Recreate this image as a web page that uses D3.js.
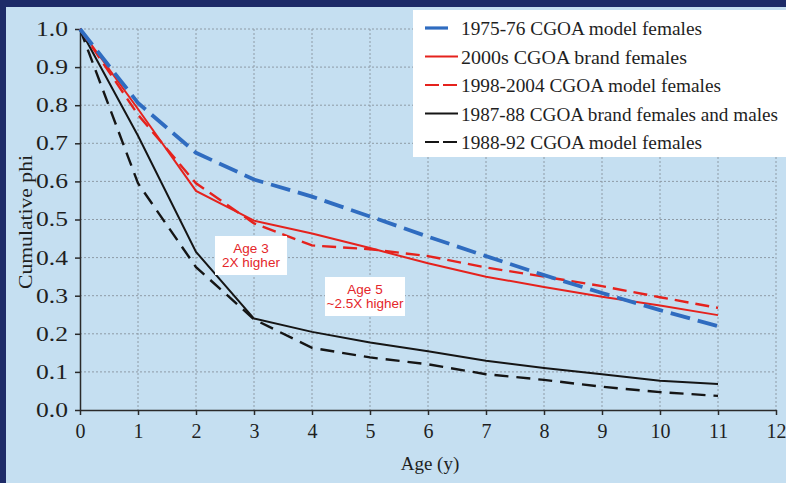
<!DOCTYPE html>
<html>
<head>
<meta charset="utf-8">
<script src="https://cdn.jsdelivr.net/npm/d3@7"></script>
<style>
  body { margin: 0; }
  svg { display: block; }
  .serif { font-family: "Liberation Serif", "Times New Roman", serif; }
  .grid line { stroke: #8e9ba6; stroke-width: 1; stroke-dasharray: 2,2; }
  .axis path, .axis line { stroke: #2a2a2a; stroke-width: 1.5; }
  .axis text { font-family: "Liberation Serif", "Times New Roman", serif; font-size: 20px; fill: #1f1f1f; }
  .note { font-family: "Liberation Sans", Arial, sans-serif; font-size: 13.5px; fill: #e4262a; text-anchor: middle; }
</style>
</head>
<body>
<div id="chart"></div>
<script>
// the data
const ages = [0, 1, 2, 3, 4, 5, 6, 7, 8, 9, 10, 11]
const model7576 = [1.0, 0.806, 0.675, 0.605, 0.56, 0.508, 0.455, 0.404, 0.354, 0.307, 0.262, 0.22]
const brand2000s = [1.0, 0.79, 0.575, 0.497, 0.463, 0.425, 0.385, 0.35, 0.323, 0.297, 0.274, 0.249]
const model9804 = [1.0, 0.775, 0.595, 0.49, 0.432, 0.422, 0.404, 0.374, 0.35, 0.325, 0.296, 0.268]
const brand8788 = [1.0, 0.72, 0.415, 0.24, 0.205, 0.177, 0.154, 0.129, 0.11, 0.094, 0.077, 0.068]
const model8892 = [1.0, 0.595, 0.375, 0.238, 0.163, 0.138, 0.12, 0.094, 0.079, 0.061, 0.047, 0.037]

const xTicks = [0, 1, 2, 3, 4, 5, 6, 7, 8, 9, 10, 11, 12]
const yTicks = [0, 0.1, 0.2, 0.3, 0.4, 0.5, 0.6, 0.7, 0.8, 0.9, 1.0]

const series = [
  {name: "1975-76 CGOA model females", values: model7576, color: "#2f6cc0", width: 3.8, dash: "20,8", legendDash: "23,40", textLen: 241},
  {name: "2000s CGOA brand females", values: brand2000s, color: "#e5221d", width: 2, dash: null, legendDash: null, textLen: 226},
  {name: "1998-2004 CGOA model females", values: model9804, color: "#e5221d", width: 2.4, dash: "14,7", legendDash: "14,4", textLen: 260},
  {name: "1987-88 CGOA brand females and males", values: brand8788, color: "#151515", width: 2, dash: null, legendDash: null, textLen: 317},
  {name: "1988-92 CGOA model females", values: model8892, color: "#151515", width: 2.4, dash: "14,8", legendDash: "14,4", textLen: 241}
]

const width = 786
const height = 483

const x = d3.scaleLinear().domain([0, 12]).range([80, 776])
const y = d3.scaleLinear().domain([0, 1]).range([410, 29])

const svg = d3.select("#chart").append("svg")
    .attr("width", width)
    .attr("height", height)

// achtergrond met donkere rand links en boven
svg.append("rect").attr("width", width).attr("height", height).attr("fill", "#1d2b68")
svg.append("rect").attr("x", 6).attr("y", 7).attr("width", width - 6).attr("height", height - 7).attr("fill", "#c5dff1")

// gridlijnen
const grid = svg.append("g").attr("class", "grid")
grid.selectAll(".vg")
    .data(xTicks.slice(1))
    .enter().append("line")
    .attr("x1", d => x(d)).attr("x2", d => x(d))
    .attr("y1", y(1)).attr("y2", y(0))
grid.selectAll(".hg")
    .data(yTicks.slice(1))
    .enter().append("line")
    .attr("x1", x(0)).attr("x2", x(12))
    .attr("y1", d => y(d)).attr("y2", d => y(d))

// assen
const xAxis = svg.append("g")
    .attr("class", "axis")
    .attr("transform", "translate(0," + y(0) + ")")
    .call(d3.axisBottom(x).tickValues(xTicks).tickSize(5).tickSizeOuter(0).tickPadding(9).tickFormat(d3.format("d")))

const yAxis = svg.append("g")
    .attr("class", "axis")
    .attr("transform", "translate(" + x(0) + ",0)")
    .call(d3.axisLeft(y).tickValues(yTicks).tickSize(5).tickSizeOuter(0).tickPadding(7).tickFormat(d3.format(".1f")))
yAxis.selectAll("text")
    .attr("textLength", 32)
    .attr("lengthAdjust", "spacingAndGlyphs")

// as titels
svg.append("text")
    .attr("class", "serif")
    .attr("x", 430).attr("y", 470)
    .attr("text-anchor", "middle")
    .attr("font-size", 19)
    .attr("fill", "#1f1f1f")
    .text("Age (y)")

svg.append("text")
    .attr("class", "serif")
    .attr("transform", "translate(32,222) rotate(-90)")
    .attr("text-anchor", "middle")
    .attr("font-size", 19)
    .attr("fill", "#1f1f1f")
    .attr("textLength", 134)
    .attr("lengthAdjust", "spacingAndGlyphs")
    .text("Cumulative phi")

// lijnen
const line = d3.line()
    .x((d, i) => x(ages[i]))
    .y(d => y(d))

svg.append("g")
  .selectAll("path")
    .data(series.slice().reverse())
    .enter().append("path")
    .attr("d", d => line(d.values))
    .attr("fill", "none")
    .attr("stroke", d => d.color)
    .attr("stroke-width", d => d.width)
    .attr("stroke-dasharray", d => d.dash)

// annotaties
const notes = [
  {x: 215, y: 236, w: 72, h: 39, lines: ["Age 3", "2X higher"]},
  {x: 325, y: 277, w: 80, h: 39, lines: ["Age 5", "~2.5X higher"]}
]
notes.forEach(function(n) {
  svg.append("rect")
      .attr("x", n.x).attr("y", n.y).attr("width", n.w).attr("height", n.h)
      .attr("fill", "#ffffff")
  n.lines.forEach(function(t, i) {
    svg.append("text")
        .attr("class", "note")
        .attr("x", n.x + n.w / 2)
        .attr("y", n.y + 17 + i * 14)
        .text(t)
  })
})

// legenda
const legend = svg.append("g")
legend.append("rect")
    .attr("x", 413).attr("y", 10).attr("width", width - 413).attr("height", 147)
    .attr("fill", "#ffffff")

const rows = legend.selectAll(".row")
    .data(series)
    .enter().append("g")
    .attr("transform", (d, i) => "translate(0," + (28 + i * 28.5) + ")")

rows.append("line")
    .attr("x1", 425).attr("x2", 458)
    .attr("stroke", d => d.color)
    .attr("stroke-width", d => d.width > 3 ? 3.2 : 2.2)
    .attr("stroke-dasharray", d => d.legendDash)

rows.append("text")
    .attr("class", "serif")
    .attr("x", 461).attr("y", 7)
    .attr("font-size", 19)
    .attr("fill", "#1f1f1f")
    .attr("textLength", d => d.textLen)
    .attr("lengthAdjust", "spacingAndGlyphs")
    .text(d => d.name)
</script>
</body>
</html>
